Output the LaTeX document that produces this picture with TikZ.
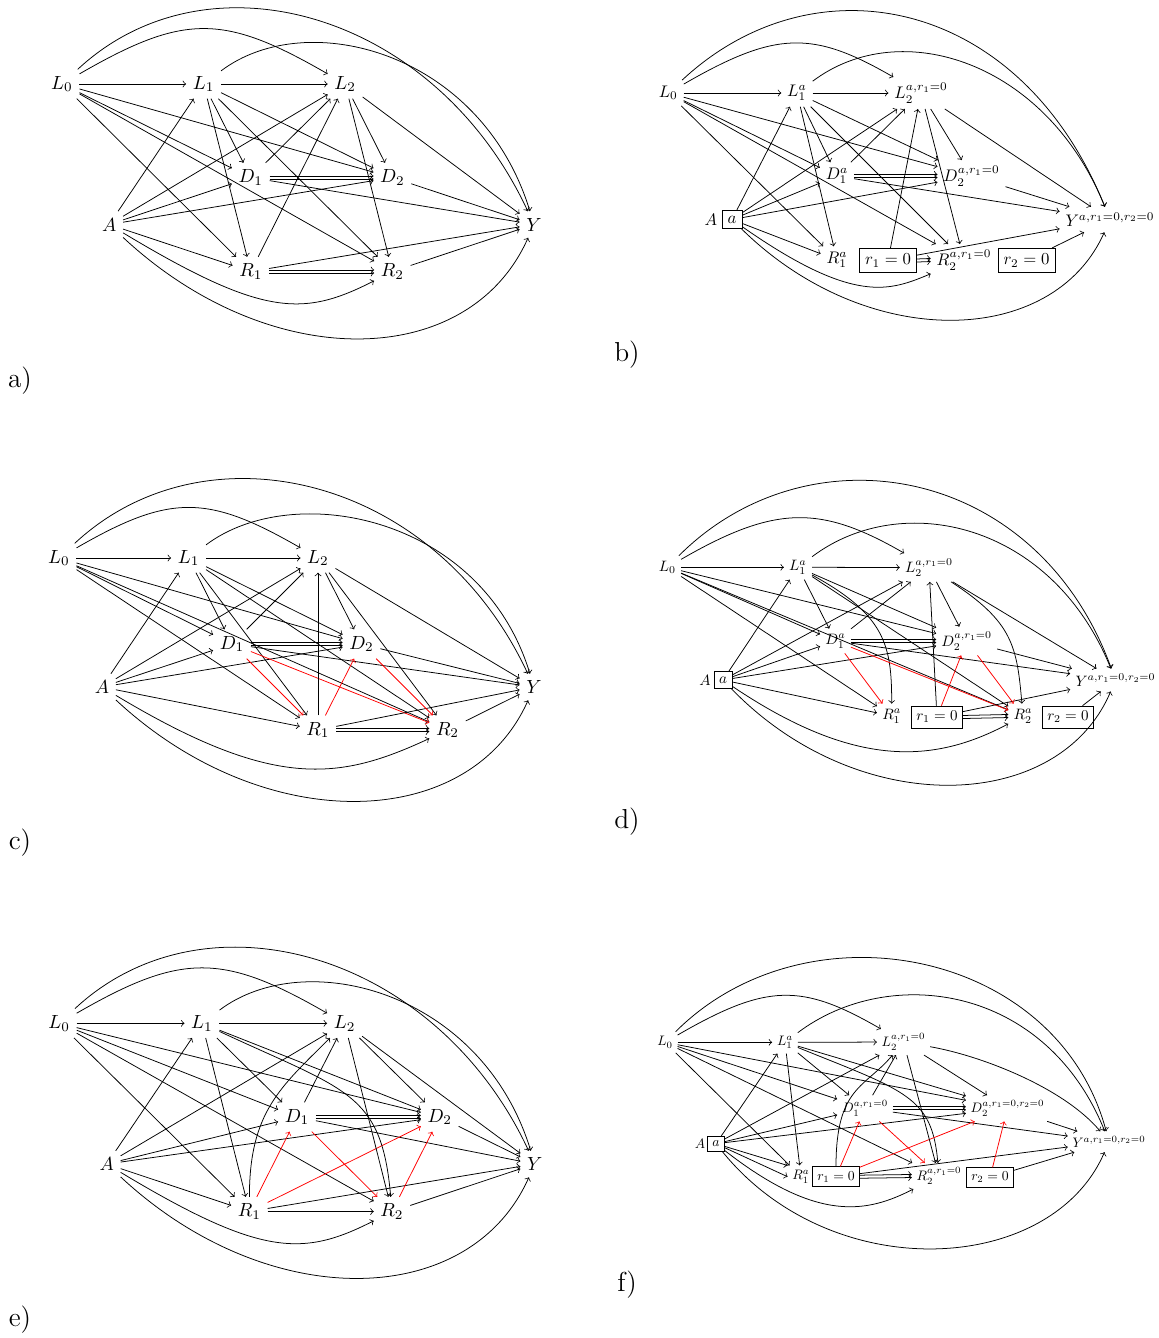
\documentclass[tikz,border=0pt]{standalone}
\newcommand\twoedge[2]{%
  \draw[ed] ([yshift=0.8pt]#1.east) -- ([yshift=0.8pt]#2.west);
  \draw[ed] ([yshift=-0.8pt]#1.east) -- ([yshift=-0.8pt]#2.west);}
\begin{document}
\begin{tikzpicture}[x=0.525pt,y=0.525pt,>=to,
  bx/.style={draw},
  ed/.style={->},
  rd/.style={->,red},
  lab/.style={font=\Large}]
\useasboundingbox (0,0) rectangle (1159,-1338);

% ---------------- panel a ----------------
\node (aL0) at (62,-84) {$L_0$};
\node (aL1) at (203.6,-84) {$L_1$};
\node (aL2) at (345.2,-84) {$L_2$};
\node (aD1) at (250.8,-177.5) {$D_1$};
\node (aD2) at (392.4,-177.5) {$D_2$};
\node (aA) at (109.2,-224.5) {$A$};
\node (aY) at (534,-224.5) {$Y$};
\node (aR1) at (250.8,-271.5) {$R_1$};
\node (aR2) at (392.4,-271.5) {$R_2$};
\foreach \t in {aL1,aD1,aD2,aR1,aR2} \draw[ed] (aL0) -- (\t);
\foreach \t in {aL1,aL2,aD1,aD2,aR1} \draw[ed] (aA) -- (\t);
\foreach \t in {aL2,aD1,aD2,aR1,aR2} \draw[ed] (aL1) -- (\t);
\foreach \t in {aL2,aY} \draw[ed] (aD1) -- (\t);
\twoedge{aD1}{aD2}
\foreach \t in {aL2,aY} \draw[ed] (aR1) -- (\t);
\twoedge{aR1}{aR2}
\foreach \t in {aD2,aR2,aY} \draw[ed] (aL2) -- (\t);
\draw[ed] (aD2) -- (aY);
\draw[ed] (aR2) -- (aY);
\draw[ed] (aL0) .. controls +(30:141) and +(150:141) .. (aL2);
\draw[ed] (aL0) .. controls +(43:200) and +(115:234) .. (aY);
\draw[ed] (aL1) .. controls +(37:130) and +(107:180) .. (aY);
\draw[ed] (aA) .. controls +(-31:180) and +(207:100) .. (aR2);
\draw[ed] (aA) .. controls +(-43:220) and +(-114:160) .. (aY);
\node[lab] (la) at (20,-381) {a)};

% ---------------- panel c ----------------
\node (cL0) at (59,-558) {$L_0$};
\node (cL1) at (188.6,-558) {$L_1$};
\node (cL2) at (318,-558) {$L_2$};
\node (cD1) at (232,-644) {$D_1$};
\node (cD2) at (361.5,-644) {$D_2$};
\node (cA) at (102,-687) {$A$};
\node (cY) at (534,-687) {$Y$};
\node (cR1) at (318,-730) {$R_1$};
\node (cR2) at (447.5,-730) {$R_2$};
\foreach \t in {cL1,cD1,cD2,cR1,cR2} \draw[ed] (cL0) -- (\t);
\foreach \t in {cL1,cL2,cD1,cD2,cR1} \draw[ed] (cA) -- (\t);
\foreach \t in {cL2,cD1,cD2,cR1,cR2} \draw[ed] (cL1) -- (\t);
\foreach \t in {cL2,cY} \draw[ed] (cD1) -- (\t);
\twoedge{cD1}{cD2}
\draw[rd] (cD1) -- (cR1);
\draw[rd] (cD1) -- (cR2);
\foreach \t in {cL2,cY} \draw[ed] (cR1) -- (\t);
\twoedge{cR1}{cR2}
\draw[rd] (cR1) -- (cD2);
\foreach \t in {cD2,cR2,cY} \draw[ed] (cL2) -- (\t);
\draw[ed] (cD2) -- (cY);
\draw[rd] (cD2) -- (cR2);
\draw[ed] (cR2) -- (cY);
\draw[ed] (cL0) .. controls +(30:128) and +(150:128) .. (cL2);
\draw[ed] (cL0) .. controls +(43:200) and +(115:234) .. (cY);
\draw[ed] (cL1) .. controls +(37:130) and +(107:180) .. (cY);
\draw[ed] (cA) .. controls +(-31:200) and +(205:120) .. (cR2);
\draw[ed] (cA) .. controls +(-43:220) and +(-114:160) .. (cY);
\node[lab] (lc) at (20,-843) {c)};

% ---------------- panel e ----------------
\node (eL0) at (59.2,-1023.3) {$L_0$};
\node (eL1) at (202,-1023.3) {$L_1$};
\node (eL2) at (344.6,-1023.3) {$L_2$};
\node (eD1) at (297,-1117) {$D_1$};
\node (eD2) at (439.7,-1117) {$D_2$};
\node (eA) at (106.8,-1164) {$A$};
\node (eY) at (534.8,-1164) {$Y$};
\node (eR1) at (249.4,-1211.5) {$R_1$};
\node (eR2) at (392,-1211.5) {$R_2$};
\foreach \t in {eL1,eD1,eD2,eR1,eR2} \draw[ed] (eL0) -- (\t);
\foreach \t in {eL1,eL2,eD1,eD2,eR1} \draw[ed] (eA) -- (\t);
\foreach \t in {eL2,eD1,eD2,eR1} \draw[ed] (eL1) -- (\t);
\foreach \t in {eL2,eY} \draw[ed] (eD1) -- (\t);
\twoedge{eD1}{eD2}
\draw[rd] (eD1) -- (eR2);
\draw[ed] (eR1) -- (eR2);
\draw[ed] (eR1) -- (eY);
\draw[rd] (eR1) -- (eD1);
\draw[rd] (eR1) -- (eD2);
\foreach \t in {eD2,eR2,eY} \draw[ed] (eL2) -- (\t);
\draw[ed] (eD2) -- (eY);
\draw[ed] (eR2) -- (eY);
\draw[rd] (eR2) -- (eD2);
\draw[ed] (eL0) .. controls +(30:141) and +(150:141) .. (eL2);
\draw[ed] (eL0) .. controls +(43:200) and +(115:234) .. (eY);
\draw[ed] (eL1) .. controls +(37:130) and +(107:180) .. (eY);
\draw[ed] (eA) .. controls +(-31:180) and +(207:100) .. (eR2);
\draw[ed] (eA) .. controls +(-43:220) and +(-114:160) .. (eY);
\draw[ed] (eL1) .. controls +(-25:160) and +(95:120) .. (eR2);
\draw[ed] (eR1) .. controls +(90:100) and +(225:90) .. (eL2);
\node[lab] (le) at (20,-1320) {e)};

% ---------------- panel b ----------------
\begin{scope}[nodes={scale=0.88}]
\node (bL0) at (668.3,-93) {$L_0$};
\node (bL1) at (797,-93) {$L_1^a$};
\node (bL2) at (921,-93) {$L_2^{a,r_1=0}$};
\node (bD1) at (837,-176) {$D_1^a$};
\node (bD2) at (971.5,-176) {$D_2^{a,r_1=0}$};
\node (bA) at (711,-219.5) {$A$};
\node[bx] (ba) at (732,-219.5) {$a$};
\node (bY) at (1110,-219.5) {$Y^{a,r_1=0,r_2=0}$};
\node (bR1) at (837,-260) {$R_1^a$};
\node[bx] (br1) at (888,-260.5) {$r_1=0$};
\node (bR2) at (964,-260) {$R_2^{a,r_1=0}$};
\node[bx] (br2) at (1026.5,-260.5) {$r_2=0$};
\end{scope}
\foreach \t in {bL1,bD1,bD2,bR1,bR2} \draw[ed] (bL0) -- (\t);
\foreach \t in {bL1,bL2,bD1,bD2,bR1} \draw[ed] (ba) -- (\t);
\foreach \t in {bL2,bD1,bD2,bR1,bR2} \draw[ed] (bL1) -- (\t);
\foreach \t in {bL2,bY} \draw[ed] (bD1) -- (\t);
\twoedge{bD1}{bD2}
\foreach \t in {bL2,bY} \draw[ed] (br1) -- (\t);
\twoedge{br1}{bR2}
\foreach \t in {bD2,bR2,bY} \draw[ed] (bL2) -- (\t);
\draw[ed] (bD2) -- (bY);
\draw[ed] (br2) -- (bY);
\draw[ed] (bL0) .. controls +(30:125) and +(150:125) .. (bL2);
\draw[ed] (bL0) .. controls +(43:200) and +(112:240) .. (bY);
\draw[ed] (bL1) .. controls +(37:130) and +(112:170) .. (bY);
\draw[ed] (ba) .. controls +(-35:150) and +(202.5:80) .. (bR2);
\draw[ed] (ba) .. controls +(-44.5:190) and +(246:140) .. (bY);
\node[lab] (lb) at (627,-355) {b)};

% ---------------- panel d ----------------
\begin{scope}[nodes={scale=0.79}]
\node (dL0) at (667.3,-567.3) {$L_0$};
\node (dL1) at (798,-567.3) {$L_1^a$};
\node (dL2) at (929,-567.5) {$L_2^{a,r_1=0}$};
\node (dD1) at (835.5,-641) {$D_1^a$};
\node (dD2) at (966.7,-641) {$D_2^{a,r_1=0}$};
\node (dA) at (705,-680) {$A$};
\node[bx] (da) at (723,-680) {$a$};
\node (dY) at (1115.5,-680) {$Y^{a,r_1=0,r_2=0}$};
\node (dR1) at (891.7,-716) {$R_1^a$};
\node[bx] (dr1) at (937,-717) {$r_1=0$};
\node (dR2) at (1023,-716) {$R_2^a$};
\node[bx] (dr2) at (1068,-717) {$r_2=0$};
\end{scope}
\foreach \t in {dL1,dD1,dD2,dR1,dR2} \draw[ed] (dL0) -- (\t);
\foreach \t in {dL1,dL2,dD1,dD2,dR1} \draw[ed] (da) -- (\t);
\foreach \t in {dL2,dD1,dD2,dR2} \draw[ed] (dL1) -- (\t);
\draw[ed] (dL1) .. controls +(-28.6:100) and +(90:70) .. (dR1);
\foreach \t in {dL2,dY} \draw[ed] (dD1) -- (\t);
\twoedge{dD1}{dD2}
\draw[rd] (dD1) -- (dR1);
\draw[rd] (dD1) -- (dR2);
\foreach \t in {dL2,dY} \draw[ed] (dr1) -- (\t);
\twoedge{dr1}{dR2}
\draw[rd] (dr1) -- (dD2);
\foreach \t in {dD2,dY} \draw[ed] (dL2) -- (\t);
\draw[ed] (dL2) .. controls +(-33:100) and +(95:70) .. (dR2);
\draw[ed] (dD2) -- (dY);
\draw[rd] (dD2) -- (dR2);
\draw[ed] (dr2) -- (dY);
\draw[ed] (dL0) .. controls +(30:125) and +(150:125) .. (dL2);
\draw[ed] (dL0) .. controls +(45:200) and +(110:230) .. (dY);
\draw[ed] (dL1) .. controls +(37:130) and +(112:170) .. (dY);
\draw[ed] (da) .. controls +(-34:160) and +(208:100) .. (dR2);
\draw[ed] (da) .. controls +(-46:195) and +(247:145) .. (dY);
\node[lab] (ld) at (627,-822) {d)};

% ---------------- panel f ----------------
\begin{scope}[nodes={scale=0.72}]
\node (fL0) at (665,-1042.3) {$L_0$};
\node (fL1) at (785,-1042.3) {$L_1^a$};
\node (fL2) at (903.5,-1042) {$L_2^{a,r_1=0}$};
\node (fD1) at (865,-1108.3) {$D_1^{a,r_1=0}$};
\node (fD2) at (1007.5,-1108.3) {$D_2^{a,r_1=0,r_2=0}$};
\node (fA) at (700,-1143.5) {$A$};
\node[bx] (fa) at (716,-1143.7) {$a$};
\node (fY) at (1109,-1141.7) {$Y^{a,r_1=0,r_2=0}$};
\node (fR1) at (801,-1176.7) {$R_1^a$};
\node[bx] (fr1) at (836,-1176.7) {$r_1=0$};
\node (fR2) at (939,-1176) {$R_2^{a,r_1=0}$};
\node[bx] (fr2) at (990,-1177.5) {$r_2=0$};
\end{scope}
\foreach \t in {fL1,fD1,fD2,fR1,fR2} \draw[ed] (fL0) -- (\t);
\foreach \t in {fL1,fL2,fD1,fD2} \draw[ed] (fa) -- (\t);
\draw[ed] (fa) -- (fR1.north west);
\draw[ed] (fa) -- (fR1.west);
\foreach \t in {fL2,fD1,fD2,fR1} \draw[ed] (fL1) -- (\t);
\draw[ed] (fL1) .. controls +(-22:130) and +(95:80) .. (fR2);
\foreach \t in {fL2,fY} \draw[ed] (fD1) -- (\t);
\twoedge{fD1}{fD2}
\draw[rd] (fD1) -- (fR2);
\draw[ed] (fr1) -- (fY);
\twoedge{fr1}{fR2}
\draw[ed] (fr1) .. controls +(90:90) and +(230:60) .. (fL2);
\draw[rd] (fr1) -- (fD1);
\draw[rd] (fr1) -- (fD2);
\foreach \t in {fD2,fR2} \draw[ed] (fL2) -- (\t);
\draw[ed] (fL2) .. controls +(-10:80) and +(130:70) .. (fY);
\draw[ed] (fD2) -- (fY);
\draw[ed] (fr2) -- (fY);
\draw[rd] (fr2) -- (fD2);
\draw[ed] (fL0) .. controls +(30:118) and +(150:118) .. (fL2);
\draw[ed] (fL0) .. controls +(45:200) and +(105:200) .. (fY);
\draw[ed] (fL1) .. controls +(37:130) and +(112:170) .. (fY);
\draw[ed] (fa) .. controls +(-38:130) and +(207:80) .. (fR2);
\draw[ed] (fa) .. controls +(-51:185) and +(246.6:145) .. (fY);
\node[lab] (lf) at (627,-1285) {f)};
\end{tikzpicture}
\end{document}
